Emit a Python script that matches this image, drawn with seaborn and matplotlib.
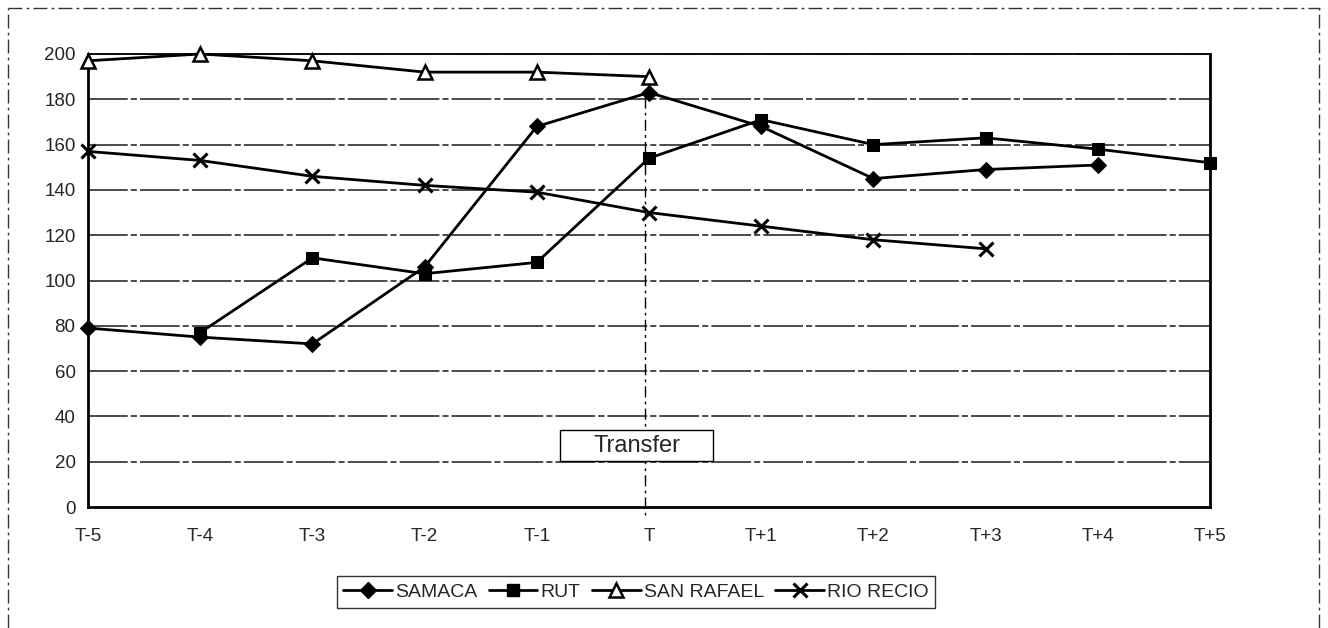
import numpy as np
import pandas as pd
import matplotlib
matplotlib.use("Agg")
import matplotlib.pyplot as plt
from matplotlib.lines import Line2D
from matplotlib.patches import Rectangle
import seaborn as sns

# ---- data ----
periods = ["T-5", "T-4", "T-3", "T-2", "T-1", "T", "T+1", "T+2", "T+3", "T+4", "T+5"]
samaca = [79, 75, 72, 106, 168, 183, 168, 145, 149, 151, np.nan]
rut = [np.nan, 77, 110, 103, 108, 154, 171, 160, 163, 158, 152]
san_rafael = [197, 200, 197, 192, 192, 190, np.nan, np.nan, np.nan, np.nan, np.nan]
rio_recio = [157, 153, 146, 142, 139, 130, 124, 118, 114, np.nan, np.nan]
series_names = ["SAMACA", "RUT", "SAN RAFAEL", "RIO RECIO"]
y_ticks = [0, 20, 40, 60, 80, 100, 120, 140, 160, 180, 200]
transfer_label = "Transfer"

sns.set_style("white")
plt.rcParams["font.family"] = ["Liberation Sans", "DejaVu Sans"]

fig = plt.figure(figsize=(13.28, 6.28), dpi=100)
ax = fig.add_axes([88 / 1328, 1 - 507 / 628, (1210 - 88) / 1328, (507 - 54) / 628])

pos = np.arange(len(periods))
df = pd.DataFrame({"pos": pos, "SAMACA": samaca, "RUT": rut,
                   "SAN RAFAEL": san_rafael, "RIO RECIO": rio_recio})

styles = {
    "SAMACA": dict(marker="D", markersize=8, markerfacecolor="black", markeredgecolor="black"),
    "RUT": dict(marker="s", markersize=9, markerfacecolor="black", markeredgecolor="black"),
    "SAN RAFAEL": dict(marker="^", markersize=9.5, markerfacecolor="white", markeredgecolor="black", markeredgewidth=1.8),
    "RIO RECIO": dict(marker="x", markersize=10.5, markerfacecolor="black", markeredgecolor="black", markeredgewidth=2.2),
}

handles = []
for name in series_names:
    sub = df[["pos", name]].dropna()
    sns.lineplot(x=sub["pos"], y=sub[name], ax=ax, color="black", linewidth=2.0,
                 zorder=4, clip_on=False, legend=False, **styles[name])
    handles.append(Line2D([0], [0], color="black", linewidth=2.0, **styles[name]))

# gridlines
for yv in y_ticks[1:]:
    ax.axhline(yv, color="#1a1a1a", linewidth=1.1, linestyle=(0, (26, 2, 4, 2)), zorder=1)

# vertical transfer line
t_idx = periods.index("T")
ax.plot([t_idx - 0.04, t_idx - 0.04], [181, -5], color="black", linewidth=1.0,
        linestyle=(0, (8, 3, 2, 3)), clip_on=False, zorder=2)

# transfer label box
ax.add_patch(Rectangle((4.21, 20.3), 1.36, 13.7, facecolor="white", edgecolor="black",
                       linewidth=1.0, zorder=5))
ax.text(4.89, 27, transfer_label, ha="center", va="center", fontsize=17, zorder=6)

ax.set_xlim(0, len(periods) - 1)
ax.set_ylim(0, 200)
ax.set_xticks(pos)
ax.set_xticklabels(periods)
ax.set_yticks(y_ticks)
ax.set_xlabel("")
ax.set_ylabel("")
ax.tick_params(axis="x", direction="in", length=3, pad=15, labelsize=13.5, color="black")
ax.tick_params(axis="y", direction="out", length=3, pad=6, labelsize=13.5, color="black")

for side in ["left", "bottom", "right"]:
    ax.spines[side].set_visible(True)
    ax.spines[side].set_color("black")
    ax.spines[side].set_linewidth(2.0)
ax.spines["top"].set_visible(True)
ax.spines["top"].set_color("black")
ax.spines["top"].set_linewidth(1.3)

leg = ax.legend(handles, series_names, loc="center", bbox_to_anchor=(636 / 1328, 1 - 592 / 628),
                bbox_transform=fig.transFigure, ncol=4, frameon=True, fancybox=False,
                edgecolor="black", fontsize=14, handlelength=2.5, handletextpad=0.15,
                columnspacing=0.6, borderpad=0.35, borderaxespad=0)
leg.get_frame().set_linewidth(1.0)

# outer dashed border of the scanned chart area
border_kw = dict(color="#333333", linewidth=1.0, linestyle=(0, (10, 3, 2, 3)))
fig.add_artist(Line2D([0.006, 0.994], [1 - 8 / 628, 1 - 8 / 628], transform=fig.transFigure, **border_kw))
fig.add_artist(Line2D([0.006, 0.006], [0, 1 - 8 / 628], transform=fig.transFigure, **border_kw))
fig.add_artist(Line2D([0.993, 0.993], [0, 1 - 8 / 628], transform=fig.transFigure, **border_kw))

fig.savefig("out.png", dpi=100)
